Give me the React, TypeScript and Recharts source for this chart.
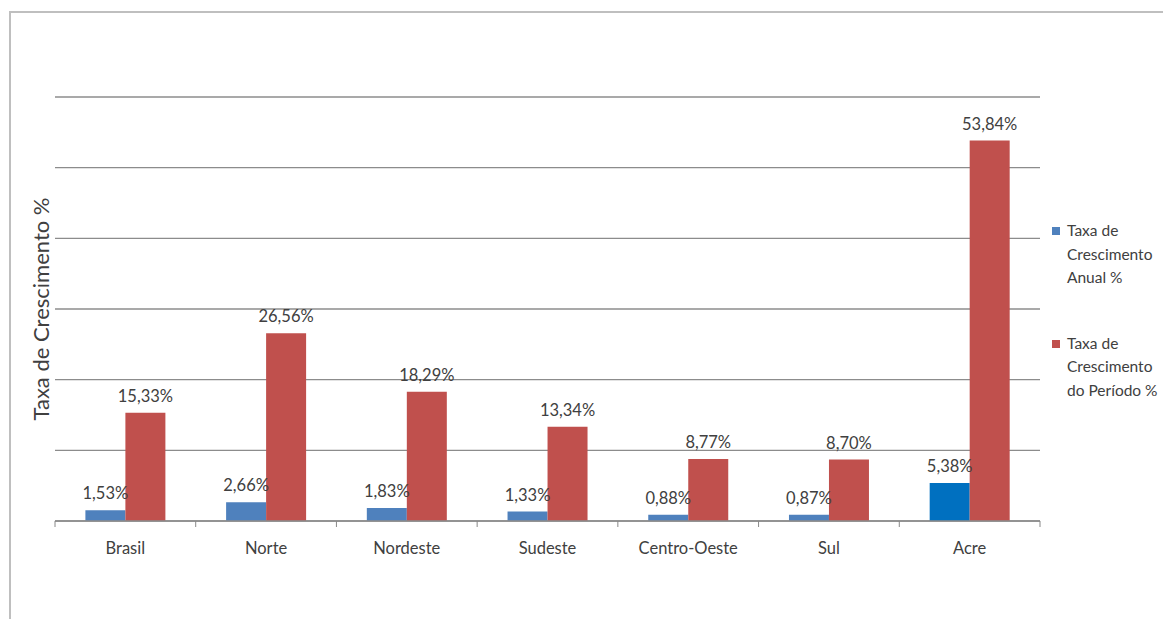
import React from 'react';
import {
  BarChart,
  Bar,
  XAxis,
  YAxis,
  CartesianGrid,
  LabelList,
  Cell,
} from 'recharts';

const regions = ['Brasil', 'Norte', 'Nordeste', 'Sudeste', 'Centro-Oeste', 'Sul', 'Acre'];
const anual = [1.53, 2.66, 1.83, 1.33, 0.88, 0.87, 5.38];
const periodo = [15.33, 26.56, 18.29, 13.34, 8.77, 8.7, 53.84];
const yTicks = [0, 10, 20, 30, 40, 50, 60];

const BLUE = '#4f81bd';
const BLUE_ACRE = '#0070c0';
const RED = '#c0504d';
const FONT = 'Lato, "Open Sans", sans-serif';

const data = regions.map((r, i) => ({ region: r, anual: anual[i], periodo: periodo[i] }));

const fmt = (v: number) => v.toFixed(2).replace('.', ',') + '%';

// category label plus small tick at the left edge of each category (and the last right edge)
function CatTick(props: any) {
  const { x, y, payload, index } = props;
  const half = payload.offset || 70.35;
  return (
    <g>
      <line x1={x - half} x2={x - half} y1={y - 8} y2={y - 2} stroke="#888" />
      {index === regions.length - 1 && (
        <line x1={x + half} x2={x + half} y1={y - 8} y2={y - 2} stroke="#888" />
      )}
      <text x={x} y={y + 25} textAnchor="middle" fontSize={16.5} fill="#404040" fontFamily={FONT}>
        {payload.value}
      </text>
    </g>
  );
}

function LegendBox() {
  const items = [
    { color: BLUE, lines: ['Taxa de', 'Crescimento', 'Anual %'] },
    { color: RED, lines: ['Taxa de', 'Crescimento', 'do Período %'] },
  ];
  return (
    <div style={{ position: 'absolute', left: 1044, top: 211, fontFamily: FONT, fontSize: 15.5, color: '#404040' }}>
      {items.map((it) => (
        <div key={it.lines[2]} style={{ display: 'flex', alignItems: 'flex-start', marginBottom: 42 }}>
          <div style={{ width: 8, height: 8, background: it.color, marginTop: 8, marginRight: 7 }} />
          <div style={{ lineHeight: '23.5px', whiteSpace: 'nowrap' }}>
            {it.lines.map((l) => (
              <div key={l}>{l}</div>
            ))}
          </div>
        </div>
      ))}
    </div>
  );
}

export default function App() {
  return (
    <div style={{ position: 'relative', width: 1163, height: 611, overflow: 'hidden', background: '#fff' }}>
      <div
        style={{
          position: 'absolute',
          left: 1,
          top: 3,
          width: 1300,
          height: 800,
          borderTop: '2px solid #bfbfbf',
          borderLeft: '2px solid #bfbfbf',
        }}
      />
      <BarChart
        width={1163}
        height={611}
        data={data}
        margin={{ top: 89, right: 131, bottom: 68, left: 0 }}
        barCategoryGap="21.6%"
        barGap={0}
        style={{ position: 'absolute', left: 0, top: 0 }}
      >
        <CartesianGrid vertical={false} stroke="#8c8c8c" strokeWidth={1.3} />
        <XAxis
          dataKey="region"
          height={30}
          axisLine={{ stroke: '#8c8c8c', strokeWidth: 1.3 }}
          tickLine={false}
          tick={<CatTick />}
          interval={0}
        />
        <YAxis
          width={47}
          domain={[0, 60]}
          ticks={yTicks}
          tick={() => <g />}
          axisLine={false}
          tickLine={false}
          label={{
            content: (p: any) => {
              const vb = p.viewBox;
              const cx = vb.x + 32;
              const cy = vb.y + vb.height / 2;
              return (
                <text
                  x={cx}
                  y={cy}
                  transform={`rotate(-90 ${cx} ${cy})`}
                  textAnchor="middle"
                  dominantBaseline="central"
                  fontSize={22}
                  fill="#404040"
                  fontFamily={FONT}
                >
                  Taxa de Crescimento %
                </text>
              );
            },
          }}
        />
        <Bar dataKey="anual" name="Taxa de Crescimento Anual %" fill={BLUE} isAnimationActive={false}>
          {data.map((d, i) => (
            <Cell key={d.region} fill={i === regions.length - 1 ? BLUE_ACRE : BLUE} />
          ))}
          <LabelList
            dataKey="anual"
            position="top"
            offset={11}
            formatter={fmt}
            style={{ fontSize: 16.5, fill: '#404040', fontFamily: FONT }}
          />
        </Bar>
        <Bar dataKey="periodo" name="Taxa de Crescimento do Período %" fill={RED} isAnimationActive={false}>
          <LabelList
            dataKey="periodo"
            position="top"
            offset={11}
            formatter={fmt}
            style={{ fontSize: 16.5, fill: '#404040', fontFamily: FONT }}
          />
        </Bar>
      </BarChart>
      <LegendBox />
    </div>
  );
}
